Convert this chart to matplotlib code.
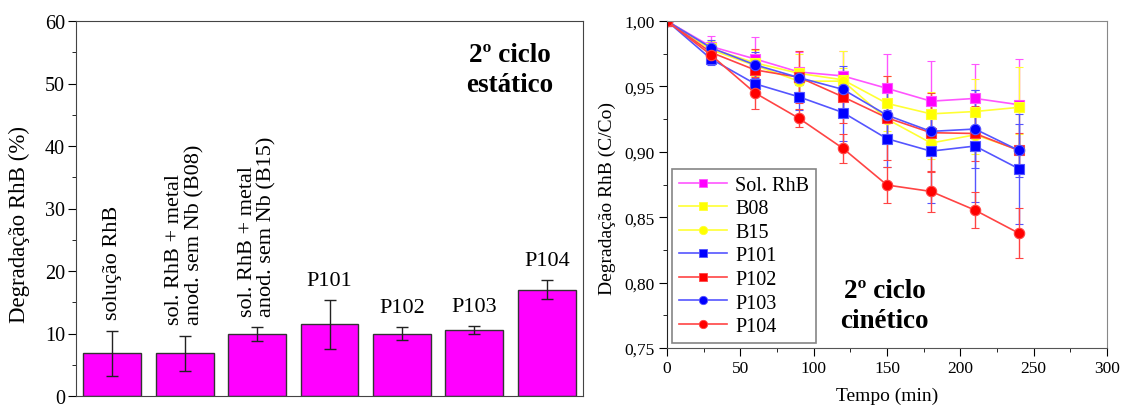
import matplotlib
matplotlib.use("Agg")
import matplotlib.pyplot as plt
from matplotlib.ticker import MultipleLocator, FuncFormatter
from matplotlib.lines import Line2D
import numpy as np

plt.rcParams['font.family'] = ['Liberation Serif', 'DejaVu Serif']

# ---- static cycle: degradation per sample (%) ----
bar_labels = ["solução RhB",
              "sol. RhB + metal\nanod. sem Nb (B08)",
              "sol. RhB + metal\nanod. sem Nb (B15)",
              "P101", "P102", "P103", "P104"]
bar_values = [6.85, 6.85, 9.95, 11.5, 10.0, 10.6, 17.0]
bar_errors = [3.6, 2.8, 1.1, 3.9, 1.05, 0.6, 1.5]
bar_rotated = [True, True, True, False, False, False, False]

# ---- kinetic cycle: C/Co versus time ----
time_min = [0, 30, 60, 90, 120, 150, 180, 210, 240]
series_names = ["Sol. RhB", "B08", "B15", "P101", "P102", "P103", "P104"]
c_sol = [1.0, 0.9805, 0.971, 0.961, 0.958, 0.9485, 0.9387, 0.9408, 0.936]
c_b08 = [1.0, 0.979, 0.968, 0.960, 0.955, 0.937, 0.929, 0.9308, 0.934]
c_b15 = [1.0, 0.978, 0.966, 0.954, 0.954, 0.925, 0.9067, 0.913, 0.9015]
c_p101 = [1.0, 0.971, 0.952, 0.942, 0.930, 0.910, 0.9005, 0.9044, 0.887]
c_p102 = [1.0, 0.976, 0.9626, 0.957, 0.942, 0.926, 0.9146, 0.914, 0.901]
c_p103 = [1.0, 0.9795, 0.9665, 0.9567, 0.9477, 0.928, 0.9156, 0.9174, 0.901]
c_p104 = [1.0, 0.974, 0.945, 0.9256, 0.9026, 0.8746, 0.8697, 0.8554, 0.8377]
e_sol = [0, 0.008, 0.017, 0.015, 0.019, 0.026, 0.031, 0.026, 0.035]
e_b08 = [0, 0.006, 0.010, 0.015, 0.022, 0.021, 0.017, 0.025, 0.031]
e_b15 = [0, 0.006, 0.008, 0.008, 0.010, 0.012, 0.012, 0.015, 0.012]
e_p101 = [0, 0.005, 0.008, 0.010, 0.022, 0.022, 0.040, 0.043, 0.042]
e_p102 = [0, 0.007, 0.016, 0.020, 0.020, 0.032, 0.030, 0.021, 0.013]
e_p103 = [0, 0.006, 0.010, 0.006, 0.018, 0.018, 0.015, 0.030, 0.020]
e_p104 = [0, 0.006, 0.012, 0.007, 0.011, 0.014, 0.016, 0.014, 0.019]

series_values = [c_sol, c_b08, c_b15, c_p101, c_p102, c_p103, c_p104]
series_errors = [e_sol, e_b08, e_b15, e_p101, e_p102, e_p103, e_p104]
marker_colors = ["#FF00FF", "#FFFF00", "#FFFF00", "#0000FF", "#FF0000", "#0000FF", "#FF0000"]
line_colors = ["#FF55FF", "#FFFF33", "#FFFF33", "#5555FF", "#FF4444", "#5555FF", "#FF4444"]
markers = ["s", "s", "o", "s", "s", "o", "o"]

W, H = 1121, 410
fig = plt.figure(figsize=(W / 100, H / 100), dpi=100)

# ---------------- left panel: bars ----------------
ax1 = fig.add_axes([76 / W, (H - 397) / H, (583 - 76) / W, (397 - 22) / H])
x = np.arange(len(bar_values))
ax1.bar(x, bar_values, width=0.8, color="#FF00FF", edgecolor="#333333", linewidth=1.0, zorder=2)
ax1.errorbar(x, bar_values, yerr=bar_errors, fmt="none", ecolor="#222222",
             elinewidth=1.0, capsize=4, capthick=1.0, zorder=3)
for xi, v, e, lab, rot in zip(x, bar_values, bar_errors, bar_labels, bar_rotated):
    if rot:
        ax1.text(xi, v + e + 1.8, lab, rotation=90, ha="center", va="bottom",
                 multialignment="left", fontsize=16, linespacing=1.05)
    else:
        ax1.text(xi, v + e + 1.6, lab, ha="center", va="bottom", fontsize=16)
ax1.set_xlim(-0.5, 6.5)
ax1.set_ylim(0, 60)
ax1.set_xticks([])
ax1.yaxis.set_major_locator(MultipleLocator(10))
ax1.yaxis.set_minor_locator(MultipleLocator(5))
ax1.tick_params(axis="y", which="major", direction="out", length=6, labelsize=14.5, pad=2)
ax1.tick_params(axis="y", which="minor", direction="out", length=3)
ax1.set_ylabel("Degradação RhB (%)", fontsize=16.5)
ax1.yaxis.set_label_coords(-0.09, 0.46)
for s in ax1.spines.values():
    s.set_color("#444444")
ax1.text(0.855, 0.87, "2º ciclo\nestático", transform=ax1.transAxes, ha="center", va="center",
         fontsize=19.5, fontweight="bold", linespacing=1.25)

# ---------------- right panel: kinetics ----------------
ax2 = fig.add_axes([667 / W, (H - 349) / H, (1107 - 667) / W, (349 - 22) / H])
handles = []
for name, yv, ev, mc, lc, mk in zip(series_names, series_values, series_errors,
                                   marker_colors, line_colors, markers):
    ax2.errorbar(time_min, yv, yerr=ev, color=lc, ecolor=lc, elinewidth=1.0,
                 capsize=3, capthick=1.0, linewidth=1.2, marker=mk,
                 markersize=7 if mk == "s" else 7.5, markerfacecolor=mc,
                 markeredgecolor=lc, markeredgewidth=0.8)
    handles.append(Line2D([], [], color=lc, linewidth=1.2, marker=mk, markersize=6,
                          markerfacecolor=mc, markeredgecolor=lc, markeredgewidth=0.6,
                          label=name))
ax2.set_xlim(0, 300)
ax2.set_ylim(0.75, 1.0)
ax2.xaxis.set_major_locator(MultipleLocator(50))
ax2.xaxis.set_minor_locator(MultipleLocator(25))
ax2.yaxis.set_major_locator(MultipleLocator(0.05))
ax2.yaxis.set_minor_locator(MultipleLocator(0.025))
ax2.yaxis.set_major_formatter(FuncFormatter(lambda v, p: f"{v:.2f}".replace(".", ",")))
ax2.tick_params(which="major", direction="out", length=6, labelsize=12.5, pad=3)
ax2.tick_params(which="minor", direction="out", length=3)
ax2.set_xlabel("Tempo (min)", fontsize=14, labelpad=7)
ax2.set_ylabel("Degradação RhB (C/Co)", fontsize=14)
ax2.yaxis.set_label_coords(-0.115, 0.46)
ax2.spines["top"].set_color("#888888")
ax2.spines["right"].set_color("#888888")
ax2.spines["left"].set_color("#222222")
ax2.spines["bottom"].set_color("#555555")
leg = ax2.legend(handles=handles, loc="lower left", bbox_to_anchor=(0.011, 0.015),
                 borderaxespad=0, fontsize=14.5, frameon=True, fancybox=False,
                 edgecolor="#666666", handlelength=2.4, labelspacing=0.22,
                 borderpad=0.35, handletextpad=0.4)
leg.get_frame().set_linewidth(1.2)
ax2.text(0.495, 0.13, "2º ciclo\ncinético", transform=ax2.transAxes, ha="center", va="center",
         fontsize=19.5, fontweight="bold", linespacing=1.25)

fig.savefig("out.png", dpi=100)
